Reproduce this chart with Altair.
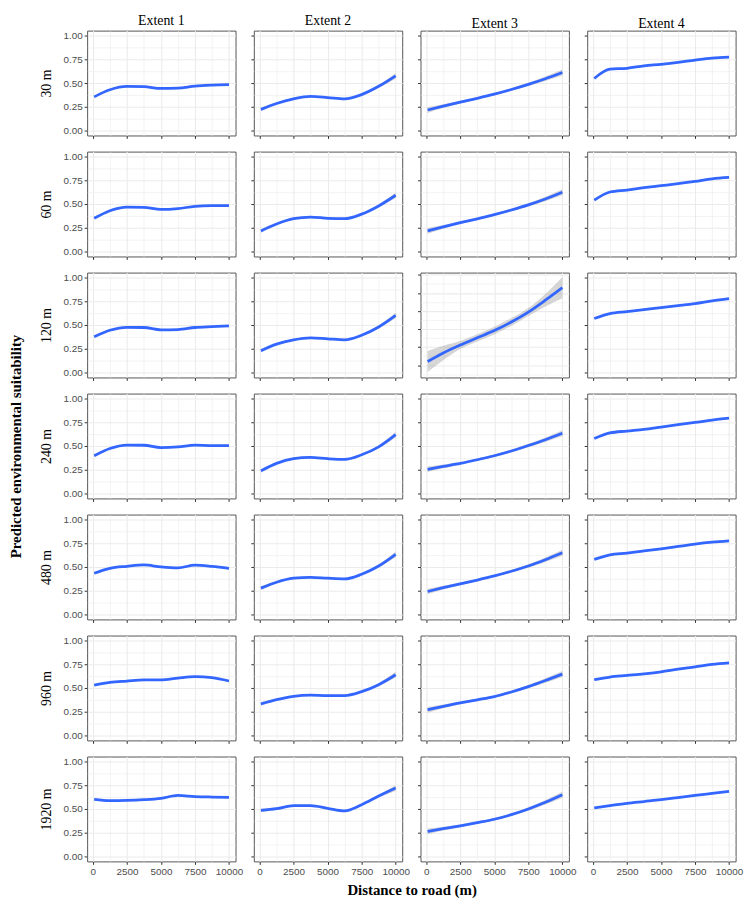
import altair as alt
import pandas as pd

ROWS = ["30 m", "60 m", "120 m", "240 m", "480 m", "960 m", "1920 m"]
EXTENTS = ["Extent 1", "Extent 2", "Extent 3", "Extent 4"]
DIST = [100, 1250, 2500, 3750, 5000, 6250, 7500, 8750, 10000]

EXTENT_1 = {
    "30 m":   [0.355, 0.430, 0.465, 0.462, 0.443, 0.447, 0.468, 0.478, 0.483],
    "60 m":   [0.350, 0.430, 0.468, 0.466, 0.443, 0.452, 0.476, 0.483, 0.484],
    "120 m":  [0.376, 0.445, 0.476, 0.474, 0.450, 0.452, 0.474, 0.483, 0.490],
    "240 m":  [0.398, 0.474, 0.510, 0.508, 0.484, 0.490, 0.510, 0.505, 0.505],
    "480 m":  [0.434, 0.486, 0.507, 0.521, 0.500, 0.490, 0.520, 0.507, 0.486],
    "960 m":  [0.531, 0.559, 0.573, 0.585, 0.585, 0.604, 0.618, 0.608, 0.573],
    "1920 m": [0.601, 0.588, 0.590, 0.597, 0.611, 0.642, 0.630, 0.625, 0.622],
}
EXTENT_2 = {
    "30 m":   [0.224, 0.286, 0.334, 0.359, 0.348, 0.334, 0.379, 0.466, 0.576],
    "60 m":   [0.218, 0.290, 0.346, 0.363, 0.350, 0.346, 0.394, 0.480, 0.592],
    "120 m":  [0.231, 0.300, 0.345, 0.366, 0.355, 0.345, 0.393, 0.479, 0.600],
    "240 m":  [0.239, 0.318, 0.367, 0.380, 0.367, 0.360, 0.408, 0.491, 0.619],
    "480 m":  [0.278, 0.340, 0.382, 0.392, 0.382, 0.375, 0.424, 0.510, 0.632],
    "960 m":  [0.333, 0.378, 0.413, 0.424, 0.420, 0.420, 0.462, 0.535, 0.639],
    "1920 m": [0.486, 0.503, 0.535, 0.535, 0.507, 0.481, 0.545, 0.635, 0.719],
}
EXTENT_3 = {
    "30 m":   [0.217, 0.258, 0.300, 0.340, 0.383, 0.432, 0.486, 0.545, 0.610],
    "60 m":   [0.218, 0.260, 0.304, 0.345, 0.388, 0.437, 0.491, 0.553, 0.623],
    "120 m":  [0.040, 0.135, 0.223, 0.303, 0.383, 0.478, 0.588, 0.719, 0.858],
    "240 m":  [0.256, 0.286, 0.318, 0.356, 0.398, 0.448, 0.505, 0.566, 0.633],
    "480 m":  [0.243, 0.283, 0.323, 0.363, 0.406, 0.455, 0.510, 0.576, 0.649],
    "960 m":  [0.271, 0.307, 0.344, 0.376, 0.410, 0.458, 0.514, 0.578, 0.646],
    "1920 m": [0.264, 0.293, 0.323, 0.356, 0.392, 0.440, 0.500, 0.570, 0.649],
}
EXTENT_4 = {
    "30 m":   [0.548, 0.645, 0.655, 0.680, 0.697, 0.717, 0.741, 0.762, 0.772],
    "60 m":   [0.540, 0.626, 0.647, 0.671, 0.692, 0.713, 0.737, 0.765, 0.779],
    "120 m":  [0.569, 0.620, 0.641, 0.662, 0.683, 0.703, 0.724, 0.752, 0.776],
    "240 m":  [0.578, 0.637, 0.657, 0.675, 0.699, 0.723, 0.747, 0.772, 0.792],
    "480 m":  [0.580, 0.628, 0.646, 0.670, 0.691, 0.715, 0.740, 0.760, 0.774],
    "960 m":  [0.587, 0.615, 0.632, 0.649, 0.670, 0.698, 0.722, 0.748, 0.764],
    "1920 m": [0.510, 0.535, 0.559, 0.578, 0.597, 0.620, 0.642, 0.663, 0.684],
}

# half-widths of the grey confidence bands
SE_1 = [0.010, 0.006, 0.006, 0.006, 0.006, 0.006, 0.006, 0.006, 0.010]
SE_2 = [0.020, 0.010, 0.008, 0.008, 0.008, 0.008, 0.010, 0.015, 0.030]
SE_3 = [0.030, 0.020, 0.014, 0.012, 0.012, 0.014, 0.018, 0.024, 0.032]
SE_4 = [0.008, 0.005, 0.004, 0.004, 0.004, 0.004, 0.004, 0.005, 0.008]
SE_3_120 = [0.117, 0.080, 0.045, 0.040, 0.043, 0.043, 0.045, 0.070, 0.116]

X_TICKS = [0, 1250, 2500, 3750, 5000, 6250, 7500, 8750, 10000]
Y_TICKS = [0, 0.125, 0.25, 0.375, 0.5, 0.625, 0.75, 0.875, 1.0]
Y_TICKS_WIDE = [-0.1, 0, 0.1, 0.2, 0.3, 0.4, 0.5, 0.6, 0.7, 0.8, 0.9, 1.0]

X_DOMAIN = [-420, 10480]
Y_DOMAIN = [-0.05, 1.05]
Y_DOMAIN_WIDE = [-0.136, 1.025]

EXT_VALUES = [EXTENT_1, EXTENT_2, EXTENT_3, EXTENT_4]
SE_VALUES = [SE_1, SE_2, SE_3, SE_4]

Y_TITLE = "Predicted environmental suitability"
X_TITLE = "Distance to road (m)"

SANS = "Liberation Sans"
SERIF = "Liberation Serif"
TICK_COLOR = "#333333"
GRID_COLOR = "#EBEBEB"

PW, PH = 150, 106
MIDDLE_ROW = len(ROWS) // 2


def panel(ri, ci):
    row, ext = ROWS[ri], EXTENTS[ci]
    special = (row == "120 m" and ext == "Extent 3")
    ys = EXT_VALUES[ci][row]
    se = SE_3_120 if special else SE_VALUES[ci]
    df = pd.DataFrame({
        "d": DIST,
        "p": ys,
        "lo": [y - s for y, s in zip(ys, se)],
        "hi": [y + s for y, s in zip(ys, se)],
    })
    left = ci == 0
    bottom = ri == len(ROWS) - 1

    x_minor = "datum.value % 2500 !== 0"
    x_kw = dict(
        values=X_TICKS,
        labels=bottom,
        ticks=True,
        tickSize=3,
        tickColor=TICK_COLOR,
        tickOpacity={"condition": {"test": x_minor, "value": 0}, "value": 1},
        grid=True,
        gridColor=GRID_COLOR,
        gridWidth={"condition": {"test": x_minor, "value": 0.6}, "value": 1.1},
        domain=False,
        labelFont=SANS,
        labelFontSize=10,
        labelColor="#4D4D4D",
        labelPadding=2,
        labelFlush=False,
        labelOverlap=False,
        labelExpr="datum.value % 2500 !== 0 ? '' : format(datum.value, 'd')",
    )
    if bottom and left:
        x_kw.update(
            title=X_TITLE,
            titleFont=SERIF,
            titleFontSize=15,
            titleFontWeight="bold",
            titleColor="black",
            titleX=328,
            titleY=33,
            titleBaseline="alphabetic",
            titleAlign="center",
        )
    else:
        x_kw.update(title=None)
    x_axis = alt.Axis(**x_kw)

    if special:
        y_vals, y_minor, y_dom = Y_TICKS_WIDE, "round(datum.value * 10) % 2 !== 0", Y_DOMAIN_WIDE
    else:
        y_vals, y_minor, y_dom = Y_TICKS, "round(datum.value * 8) % 2 !== 0", Y_DOMAIN
    y_kw = dict(
        values=y_vals,
        labels=left,
        ticks=True,
        tickSize=3,
        tickColor=TICK_COLOR,
        tickOpacity={"condition": {"test": y_minor, "value": 0}, "value": 1},
        grid=True,
        gridColor=GRID_COLOR,
        gridWidth={"condition": {"test": y_minor, "value": 0.6}, "value": 1.1},
        domain=False,
        labelFont=SANS,
        labelFontSize=10,
        labelColor="#4D4D4D",
        labelPadding=2,
        labelFlush=False,
        labelOverlap=False,
        labelExpr="round(datum.value * 8) % 2 !== 0 ? '' : format(datum.value, '.2f')",
    )
    if left:
        y_kw.update(
            title=row,
            titleFont=SERIF,
            titleFontSize=14,
            titleFontWeight="normal",
            titleColor="black",
            titlePadding=10,
        )
    else:
        y_kw.update(title=None)
    y_axis = alt.Axis(**y_kw)

    xs = alt.Scale(domain=X_DOMAIN, nice=False, zero=False)
    yscale = alt.Scale(domain=y_dom, nice=False, zero=False)

    base = alt.Chart(df)
    band = base.mark_area(color="#999999", opacity=0.4, interpolate="monotone", clip=True).encode(
        x=alt.X("d:Q", scale=xs, axis=x_axis),
        y=alt.Y("lo:Q", scale=yscale, axis=y_axis),
        y2="hi:Q",
    )
    line = base.mark_line(color="#3366FF", strokeWidth=2.8, interpolate="monotone", clip=True).encode(
        x=alt.X("d:Q", scale=xs, axis=x_axis),
        y=alt.Y("p:Q", scale=yscale, axis=y_axis),
    )
    layer = alt.layer(band, line)

    if left and ri == MIDDLE_ROW:
        # invisible layer that only carries the shared y-axis title
        ghost = base.mark_line(opacity=0).encode(
            x=alt.X("d:Q", scale=xs, axis=x_axis),
            y=alt.Y(
                "p:Q",
                axis=alt.Axis(
                    orient="left",
                    title=Y_TITLE,
                    titleFont=SERIF,
                    titleFontSize=15,
                    titleFontWeight="bold",
                    titleColor="black",
                    titlePadding=64,
                    minExtent=0,
                    labels=False,
                    ticks=False,
                    grid=False,
                    domain=False,
                ),
            ),
        )
        layer = alt.layer(layer, ghost).resolve_scale(y="independent")

    props = dict(width=PW, height=PH)
    if ri == 0:
        tkw = dict(
            text=ext,
            font=SERIF,
            fontSize=14,
            fontWeight="normal",
            color="black",
            offset=(3 if ci < 2 else 0),
            anchor="middle",
            frame="group",
        )
        props["title"] = alt.TitleParams(**tkw)
    return layer.properties(**props)


panels = [panel(ri, ci) for ri in range(len(ROWS)) for ci in range(len(EXTENTS))]

chart = alt.concat(
    *panels,
    columns=4,
    spacing={"row": 16.3, "column": 18.5},
    bounds="flush",
).properties(
    padding=0,
    background="white",
).configure_view(
    stroke="#555555",
    strokeWidth=1,
)

chart.save("out.html", embed_options={"renderer": "svg", "actions": False})
